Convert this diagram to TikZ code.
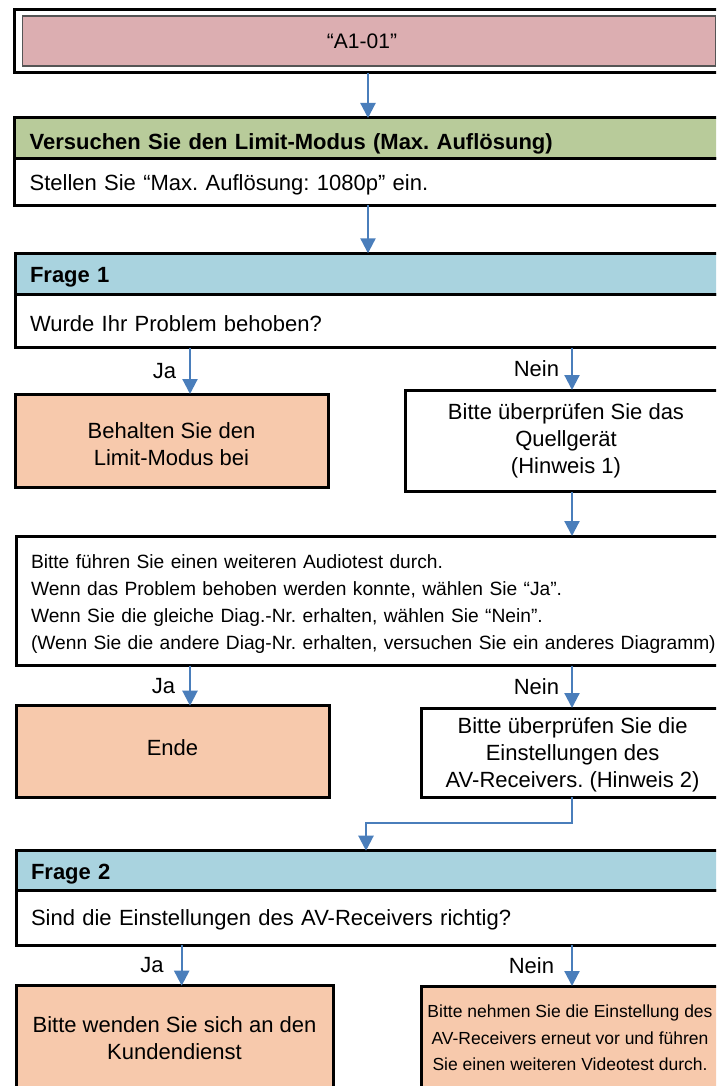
\documentclass[tikz,border=0pt]{standalone}
\usepackage{fontspec}
\setmainfont{Liberation Sans}
\usetikzlibrary{arrows.meta}
\definecolor{pinkfill}{HTML}{DCAEB1}
\definecolor{greenfill}{HTML}{B8CB9A}
\definecolor{bluefill}{HTML}{A9D3DF}
\definecolor{peach}{HTML}{F7C9AC}
\definecolor{arrowblue}{HTML}{4A7EBB}
\definecolor{thinborder}{HTML}{555555}
\frenchspacing
\begin{document}
\frenchspacing
\begin{tikzpicture}[x=1pt,y=-1pt,
  every node/.style={outer sep=0pt, font=\fontsize{22}{27}\selectfont},
  frame/.style={draw=black, line width=3pt, anchor=north west, inner sep=0pt},
  hdr/.style={frame, text width=700pt, inner xsep=15pt, align=left, font=\bfseries\fontsize{22}{27}\selectfont},
  body/.style={frame, fill=white, text width=700pt, inner xsep=15pt, align=left},
  cbox/.style={frame, align=center},
  arr/.style={draw=arrowblue, line width=2.2pt, -{Triangle[width=15pt,length=15pt,fill=arrowblue]}},
  lbl/.style={inner sep=0pt}
]
\useasboundingbox (0,0) rectangle (716,1086);
\clip (0,0) rectangle (716,1086);
\fill[white] (0,0) rectangle (716,1086);

% helper x positions
\coordinate (xmain) at (368,0);
\coordinate (xja) at (190,0);
\coordinate (xja2) at (181.7,0);
\coordinate (xnein) at (572,0);
\coordinate (xq2) at (366,0);
\coordinate (ybend) at (0,822.7);

% start
\node[frame, fill=white, minimum width=760pt, minimum height=63.5pt] (startframe) at (14.6,9.5) {};
\node[draw=thinborder, line width=1.2pt, fill=pinkfill, anchor=north west, minimum width=693pt, minimum height=50pt, inner sep=0pt, font=\fontsize{21}{26}\selectfont] (start) at (22.5,16) {\hspace*{-14pt}“A1-01”};

% try limit mode
\node[body, minimum height=46pt, text height=31.9pt, text depth=14.1pt] (trybody) at (14.6,159) {Stellen Sie “Max. Auflösung: 1080p” ein.};
\node[hdr, fill=greenfill, minimum height=41pt, text height=31.2pt, text depth=9.8pt] (tryhead) at (14.6,118) {Versuchen Sie den Limit-Modus (Max. Auflösung)};

% question 1
\node[body, minimum height=53.7pt, text height=37.9pt, text depth=15.8pt] (qonebody) at (15,294) {Wurde Ihr Problem behoben?};
\node[hdr, fill=bluefill, minimum height=40.7pt, text height=29.3pt, text depth=11.4pt] (qonehead) at (15,253.3) {Frage 1};

\node[cbox, fill=peach, minimum width=313pt, minimum height=93pt] (keep) at (15,394) {\rule{0pt}{23pt}Behalten Sie den\\Limit-Modus bei};
\node[cbox, fill=white, minimum width=321pt, minimum height=101.7pt] (source) at (405.5,390) {Bitte überprüfen Sie das\\Quellgerät\\(Hinweis 1)};

% audio test
\node[body, minimum height=129.7pt, font=\fontsize{19.2}{27}\selectfont] (audio) at (16,536) {\rule{0pt}{20pt}Bitte führen Sie einen weiteren Audiotest durch.\\Wenn das Problem behoben werden konnte, wählen Sie “Ja”.\\Wenn Sie die gleiche Diag.-Nr. erhalten, wählen Sie “Nein”.\\(Wenn Sie die andere Diag-Nr. erhalten, versuchen Sie ein anderes Diagramm)};

\node[cbox, fill=peach, minimum width=313pt, minimum height=92pt, text height=50.2pt, text depth=41.8pt] (ende) at (16,705.7) {Ende};
\node[cbox, fill=white, minimum width=303.2pt, minimum height=89pt] (avcheck) at (421,708) {\rule{0pt}{20pt}Bitte überprüfen Sie die\\Einstellungen des\\AV-Receivers. (Hinweis 2)};

% question 2
\node[body, minimum height=54.3pt, text height=35.2pt, text depth=19.1pt] (qtwobody) at (16,890.7) {Sind die Einstellungen des AV-Receivers richtig?};
\node[hdr, fill=bluefill, minimum height=40pt, text height=28.9pt, text depth=11.1pt] (qtwohead) at (16,850.7) {Frage 2};

\node[cbox, fill=peach, minimum width=317pt, minimum height=105pt] (service) at (16,985.7) {Bitte wenden Sie sich an den\\Kundendienst};
\node[cbox, fill=peach, minimum width=298pt, minimum height=104pt, font=\fontsize{17.5}{26.7}\selectfont] (redo) at (421,986) {Bitte nehmen Sie die Einstellung des\\AV-Receivers erneut vor und führen\\Sie einen weiteren Videotest durch.};

% connectors
\draw[arr] (startframe.south -| xmain) -- (tryhead.north -| xmain);
\draw[arr] (trybody.south -| xmain) -- (qonehead.north -| xmain);
\draw[arr] (qonebody.south -| xja) -- node[lbl, left=14pt] {Ja} (keep.north -| xja);
\draw[arr] (qonebody.south -| xnein) -- node[lbl, left=13pt] {Nein} (source.north -| xnein);
\draw[arr] (source.south -| xnein) -- (audio.north -| xnein);
\draw[arr] (audio.south -| xja) -- node[lbl, left=15pt] {Ja} (ende.north -| xja);
\draw[arr] (audio.south -| xnein) -- node[lbl, left=13pt] {Nein} (avcheck.north -| xnein);
\draw[arr] (avcheck.south -| xnein) -- (xnein |- ybend) -| (qtwohead.north -| xq2);
\draw[arr] (qtwobody.south -| xja2) -- node[lbl, left=18pt] {Ja} (service.north -| xja2);
\draw[arr] (qtwobody.south -| xnein) -- node[lbl, left=18pt] {Nein} (redo.north -| xnein);
\end{tikzpicture}
\end{document}
